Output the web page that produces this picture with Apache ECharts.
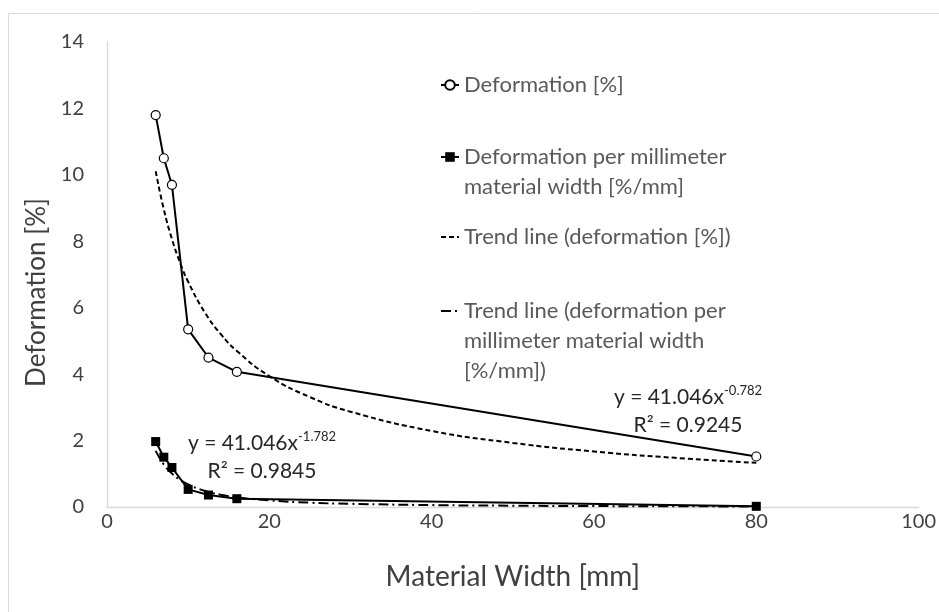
<!DOCTYPE html>
<html>
<head>
<meta charset="utf-8">
<script src="https://cdn.jsdelivr.net/npm/echarts@6/dist/echarts.min.js"></script>
<style>
html,body{margin:0;padding:0;background:#fff;}
#chart{width:939px;height:612px;}
</style>
</head>
<body>
<div id="chart"></div>
<script>
// ---- data ----
var widths = [6, 7, 8, 10, 12.5, 16, 80];
var deformation = [11.8, 10.5, 9.7, 5.35, 4.5, 4.07, 1.52];
var deformationPerMm = [1.97, 1.5, 1.19, 0.53, 0.36, 0.25, 0.02];
var trendX = [6, 7, 8, 9, 10, 12, 14, 16, 20, 25, 30, 40, 50, 60, 70, 80];
var trendDeformation = [10.11, 8.96, 8.07, 7.36, 6.78, 5.88, 5.21, 4.70, 3.94, 3.31, 2.87, 2.29, 1.93, 1.67, 1.48, 1.33];
var trendPerMm = [1.69, 1.28, 1.01, 0.82, 0.68, 0.49, 0.37, 0.29, 0.20, 0.13, 0.096, 0.057, 0.039, 0.028, 0.021, 0.017];
var xTicks = [0, 20, 40, 60, 80, 100];
var yTicks = [0, 2, 4, 6, 8, 10, 12, 14];
var names = ['Deformation [%]', 'Deformation per millimeter material width [%/mm]', 'Trend line (deformation [%])', 'Trend line (deformation per millimeter material width [%/mm])'];
var legendLines = [
  ['Deformation [%]'],
  ['Deformation per millimeter', 'material width [%/mm]'],
  ['Trend line (deformation [%])'],
  ['Trend line (deformation per', 'millimeter material width', '[%/mm])']
];
var eq1 = ['y = 41.046x', '-0.782', 'R² = 0.9245'];
var eq2 = ['y = 41.046x', '-1.782', 'R² = 0.9845'];

function pairs(xs, ys) { return xs.map(function (x, i) { return [x, ys[i]]; }); }

var FONT = 'Lato';
var LH = 30;
var chart = echarts.init(document.getElementById('chart'));

// legend entry whose icon sits on the first text line
function legendFor(i, iconCenterY, hideSymbol) {
  var lines = legendLines[i];
  var n = lines.length;
  var pad = [];
  for (var k = 0; k < n - 1; k++) pad.push('');
  var txt = pad.concat(lines).join('\n');
  var l = {
    data: [names[i]],
    left: 440,
    top: iconCenterY - (2 * n - 1) * LH / 2,
    padding: 0,
    itemWidth: 18,
    itemHeight: 12,
    selectedMode: false,
    formatter: function () { return txt; },
    textStyle: { fontFamily: FONT, fontSize: 22, color: '#595959', lineHeight: LH }
  };
  if (hideSymbol) l.itemStyle = { color: 'rgba(0,0,0,0)', borderWidth: 0, opacity: 0 };
  return l;
}

function eqGraphic(eq, cx, cy) {
  return [{
    type: 'text', x: cx, y: cy,
    style: {
      text: '{m|' + eq[0] + '}{s|' + eq[1] + '}',
      align: 'center', verticalAlign: 'middle',
      rich: {
        m: { fontFamily: FONT, fontSize: 21, fill: '#262626', lineHeight: 26 },
        s: { fontFamily: FONT, fontSize: 13, fill: '#262626', verticalAlign: 'top', lineHeight: 14 }
      }
    }
  }, {
    type: 'text', x: cx, y: cy + 28,
    style: {
      text: eq[2], align: 'center', verticalAlign: 'middle',
      fontFamily: FONT, fontSize: 21, fill: '#262626'
    }
  }];
}

var option = {
  backgroundColor: '#ffffff',
  animation: false,
  grid: { left: 107, right: 17, top: 42, bottom: 105 },
  xAxis: {
    type: 'value', min: 0, max: 100, interval: 20,
    name: 'Material Width [mm]', nameLocation: 'middle', nameGap: 56,
    nameTextStyle: { fontFamily: FONT, fontSize: 28, color: '#404040' },
    axisLine: { show: true, lineStyle: { color: '#d9d9d9', width: 1.3 } },
    axisTick: { show: false },
    splitLine: { show: false },
    axisLabel: {
      fontFamily: FONT, fontSize: 20, color: '#404040', margin: 5,
      formatter: function (v) { return xTicks.indexOf(v) >= 0 ? String(v) : ''; }
    }
  },
  yAxis: {
    type: 'value', min: 0, max: 14, interval: 2,
    name: 'Deformation [%]', nameLocation: 'middle', nameGap: 56,
    nameTextStyle: { fontFamily: FONT, fontSize: 26, color: '#404040', padding: [0, 36, 0, 0] },
    axisLine: { show: true, lineStyle: { color: '#d9d9d9', width: 1.3 } },
    axisTick: { show: false },
    splitLine: { show: false },
    axisLabel: {
      fontFamily: FONT, fontSize: 20, color: '#404040', margin: 23,
      formatter: function (v) { return yTicks.indexOf(v) >= 0 ? String(v) : ''; }
    }
  },
  legend: [
    legendFor(0, 85, false),
    legendFor(1, 157, false),
    legendFor(2, 237, true),
    legendFor(3, 311, true)
  ],
  graphic: [
    { type: 'rect', shape: { x: 8.5, y: 13.5, width: 1000, height: 1000 }, style: { fill: 'none', stroke: '#d9d9d9', lineWidth: 1 }, silent: true, z: -10 }
  ].concat(eqGraphic(eq1, 688, 397)).concat(eqGraphic(eq2, 262, 443)),
  series: [
    {
      name: names[0], type: 'line', data: pairs(widths, deformation),
      symbol: 'circle', symbolSize: 9,
      lineStyle: { color: '#000', width: 2 },
      itemStyle: { color: '#ffffff', borderColor: '#000', borderWidth: 1.2 },
      z: 4
    },
    {
      name: names[1], type: 'line', data: pairs(widths, deformationPerMm),
      symbol: 'rect', symbolSize: 9,
      lineStyle: { color: '#000', width: 2 },
      itemStyle: { color: '#000' },
      z: 4
    },
    {
      name: names[2], type: 'line', data: pairs(trendX, trendDeformation),
      symbol: 'none', smooth: true,
      lineStyle: { color: '#000', width: 2, type: [5, 3] },
      itemStyle: { color: '#000' },
      z: 3
    },
    {
      name: names[3], type: 'line', data: pairs(trendX, trendPerMm),
      symbol: 'none', smooth: true,
      lineStyle: { color: '#000', width: 2, type: [10, 4, 2, 4] },
      itemStyle: { color: '#000' },
      z: 3
    }
  ]
};
chart.setOption(option);
</script>
</body>
</html>
